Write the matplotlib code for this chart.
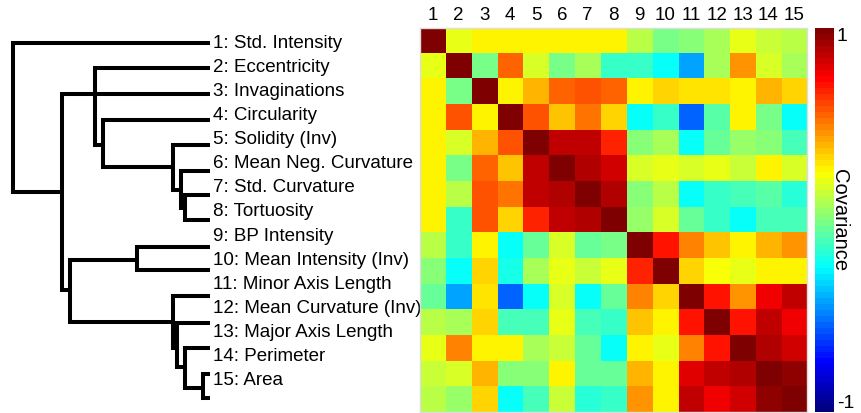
import numpy as np
import matplotlib
matplotlib.use('Agg')
import matplotlib.pyplot as plt
from matplotlib.colors import LinearSegmentedColormap

plt.rcParams['font.family'] = ['Liberation Sans', 'DejaVu Sans']
plt.rcParams['axes.unicode_minus'] = False

features = ['Std. Intensity', 'Eccentricity', 'Invaginations', 'Circularity',
            'Solidity (Inv)', 'Mean Neg. Curvature', 'Std. Curvature', 'Tortuosity',
            'BP Intensity', 'Mean Intensity (Inv)', 'Minor Axis Length',
            'Mean Curvature (Inv)', 'Major Axis Length', 'Perimeter', 'Area']

cov = np.array([
    [1.00, 0.20, 0.25, 0.25, 0.25, 0.25, 0.25, 0.25, 0.12, -0.02, 0.00, 0.08, 0.20, 0.15, 0.10],
    [0.20, 1.00, -0.03, 0.56, 0.18, -0.03, 0.08, -0.13, -0.13, -0.22, -0.42, 0.08, 0.45, 0.17, 0.07],
    [0.25, -0.03, 1.00, 0.25, 0.39, 0.56, 0.58, 0.56, 0.25, 0.32, 0.31, 0.30, 0.26, 0.39, 0.34],
    [0.25, 0.58, 0.25, 1.00, 0.59, 0.36, 0.52, 0.32, -0.25, -0.13, -0.55, -0.08, 0.25, -0.03, -0.22],
    [0.25, 0.18, 0.39, 0.59, 1.00, 0.87, 0.87, 0.68, 0.00, 0.08, -0.22, -0.05, 0.05, 0.01, -0.10],
    [0.25, -0.03, 0.56, 0.36, 0.85, 1.00, 0.88, 0.84, 0.18, 0.20, 0.18, 0.20, 0.15, 0.26, 0.17],
    [0.25, 0.10, 0.58, 0.52, 0.87, 0.88, 1.00, 0.90, 0.00, 0.12, -0.22, -0.13, -0.10, -0.08, -0.18],
    [0.25, -0.15, 0.57, 0.33, 0.68, 0.85, 0.88, 1.00, 0.05, 0.18, -0.05, -0.15, -0.22, -0.10, -0.12],
    [0.12, -0.15, 0.25, -0.24, -0.05, 0.18, -0.05, -0.02, 1.00, 0.70, 0.47, 0.36, 0.25, 0.40, 0.44],
    [0.00, -0.22, 0.33, -0.20, 0.08, 0.20, 0.13, 0.20, 0.68, 1.00, 0.34, 0.24, 0.21, 0.28, 0.28],
    [-0.05, -0.43, 0.31, -0.55, -0.22, 0.18, -0.22, -0.05, 0.48, 0.34, 1.00, 0.70, 0.45, 0.78, 0.85],
    [0.10, 0.08, 0.33, -0.10, -0.10, 0.20, -0.12, -0.15, 0.36, 0.27, 0.70, 1.00, 0.70, 0.86, 0.78],
    [0.21, 0.47, 0.25, 0.25, 0.08, 0.13, -0.05, -0.23, 0.28, 0.21, 0.48, 0.70, 1.00, 0.88, 0.82],
    [0.15, 0.17, 0.39, 0.00, 0.03, 0.27, -0.05, -0.05, 0.40, 0.25, 0.80, 0.86, 0.88, 1.00, 0.95],
    [0.10, 0.05, 0.34, -0.22, -0.10, 0.15, -0.17, -0.13, 0.44, 0.25, 0.85, 0.78, 0.82, 0.95, 1.00],
])

# dendrogram links: leaf-row position of the two arms, join distance,
# and the distance each arm runs out to (0 = leaf)
link_top = [1.00, 3.11, 2.04, 4.19, 5.23, 6.30, 7.30, 9.99, 9.45, 11.48, 12.60, 13.63, 14.71]
link_bot = [7.17, 11.23, 5.23, 6.14, 7.09, 7.84, 8.33, 12.56, 10.40, 13.63, 14.42, 15.29, 15.71]
link_h = [1.000, 0.751, 0.584, 0.543, 0.188, 0.147, 0.127, 0.711, 0.371, 0.188, 0.168, 0.127, 0.036]
end_top = [0, 0, 0, 0, 0, 0, 0, 0.371, 0, 0, 0, 0, 0]
end_bot = [0.751, 0.711, 0.543, 0.188, 0.147, 0.127, 0, 0.188, 0, 0.168, 0.127, 0.036, 0]

# classic 64-step jet (pure yellow at +0.25, pure red at +0.75)
jet64 = LinearSegmentedColormap.from_list(
    'jet64', [(0, (0, 0, 0.5)), (1 / 8, (0, 0, 1)), (3 / 8, (0, 1, 1)),
              (5 / 8, (1, 1, 0)), (7 / 8, (1, 0, 0)), (1, (0.5, 0, 0))], N=64)

W, H = 861, 413
fig = plt.figure(figsize=(W / 100, H / 100), dpi=100)

# left: dendrogram + feature names
axd = fig.add_axes([0, 0, 420 / W, 1])
for yt, yb, h, et, eb in zip(link_top, link_bot, link_h, end_top, end_bot):
    axd.plot([et, h, h, eb], [yt, yt, yb, yb], color='black', lw=2.9,
             solid_joinstyle='miter', solid_capstyle='butt')
for i, name in enumerate(features):
    axd.text(-0.015, i + 1, '%d: %s' % (i + 1, name), ha='left', va='center',
             fontsize=13.5, clip_on=False)
axd.set_xlim(210 / 197, -210 / 197)
axd.set_ylim(1 + 370 / 24.14, 1 - 43 / 24.14)
axd.axis('off')

# heatmap
axh = fig.add_axes([420 / W, 1 / H, 387 / W, 384 / H])
im = axh.imshow(cov, cmap=jet64, vmin=-1, vmax=1, aspect='auto',
                interpolation='nearest')
n = len(features)
axh.set_xticks(np.arange(n))
axh.set_xticklabels([str(i + 1) for i in range(n)], fontsize=13.5)
axh.xaxis.tick_top()
axh.tick_params(axis='x', length=0, pad=3)
axh.set_yticks([])
for s in axh.spines.values():
    s.set_color('#dddddd')
    s.set_linewidth(1)

# colorbar
axc = fig.add_axes([815 / W, 1 / H, 19 / W, 384 / H])
cbar = fig.colorbar(im, cax=axc, ticks=[-1, 1])
cbar.outline.set_visible(False)
axc.tick_params(length=0, labelsize=14, pad=2)
for lbl, va in zip(axc.get_yticklabels(), ['bottom', 'top']):
    lbl.set_va(va)
cbar.set_label('Covariance', rotation=-90, fontsize=14.5, labelpad=-4)

fig.savefig('out.png', dpi=100)
